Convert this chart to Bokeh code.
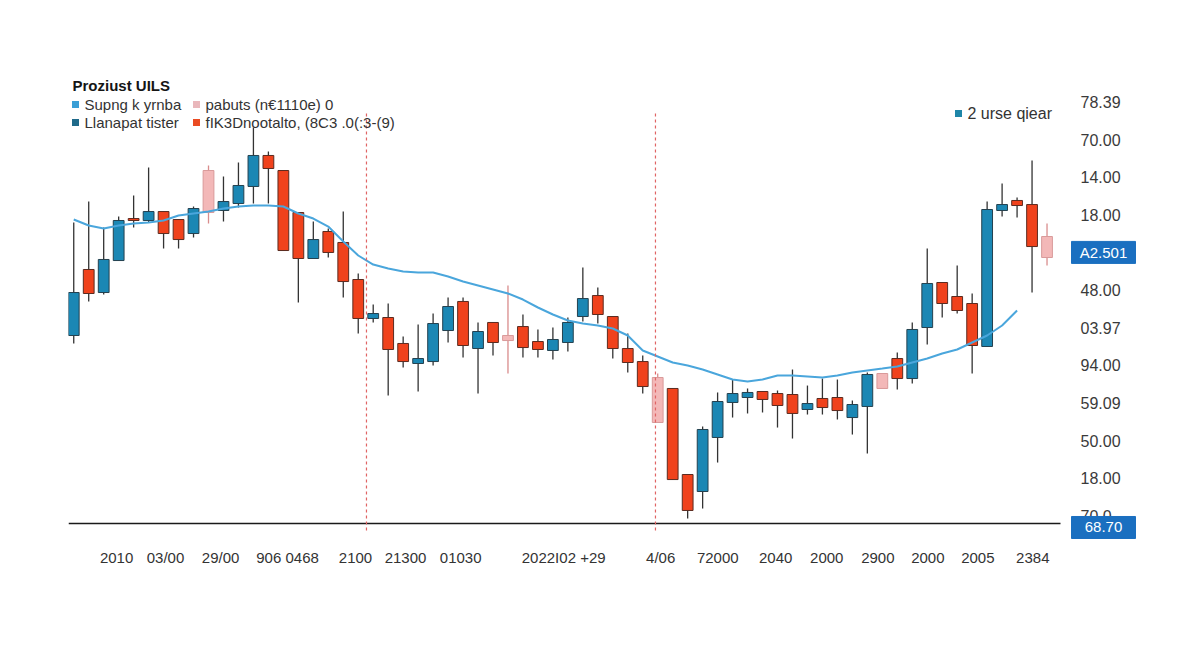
from bokeh.plotting import figure
from bokeh.models import FixedTicker, Label, ColumnDataSource, Range1d
from bokeh.core.properties import value
from bokeh.embed import file_html
from bokeh.resources import INLINE

# ---------------- data ----------------
opens = [33.96, 42.73, 39.67, 43.92, 49.50, 49.24, 50.43, 49.37, 47.51, 55.88,
         50.57, 51.50, 53.76, 57.88, 55.88, 50.30, 44.19, 47.78, 46.32, 41.40,
         36.22, 36.35, 32.90, 30.24, 30.50, 34.62, 38.48, 32.23, 35.69, 33.96,
         35.15, 33.16, 31.97, 33.03, 36.48, 39.27, 36.48, 32.23, 30.50, 28.38,
         26.92, 15.49, 13.23, 20.41, 25.06, 25.72, 26.52, 26.25, 26.12, 24.13,
         25.59, 25.72, 23.06, 24.53, 28.91, 30.90, 28.24, 35.02, 41.00, 39.14,
         38.21, 32.50, 50.57, 51.90, 51.36, 47.11]
highs = [48.97, 51.76, 48.31, 49.77, 52.56, 56.28, 50.43, 49.37, 51.10, 56.55,
         55.09, 56.95, 61.60, 58.41, 55.88, 50.30, 49.11, 48.18, 50.43, 42.20,
         38.08, 38.21, 33.83, 35.42, 36.88, 39.01, 39.01, 35.69, 35.69, 40.60,
         36.75, 34.76, 35.02, 36.35, 42.99, 40.34, 36.48, 34.22, 31.30, 28.91,
         26.92, 15.49, 21.87, 26.39, 28.11, 26.92, 26.52, 26.65, 29.44, 27.31,
         28.24, 28.11, 25.32, 29.04, 28.91, 31.70, 35.69, 45.52, 41.00, 43.26,
         39.54, 51.76, 54.16, 52.30, 57.21, 48.84]
lows = [32.90, 38.48, 39.41, 43.92, 48.31, 48.97, 45.52, 45.52, 46.98, 48.84,
        49.11, 50.97, 51.50, 51.50, 45.25, 38.34, 44.19, 44.32, 39.01, 34.22,
        35.69, 25.99, 29.71, 26.52, 29.97, 33.03, 31.04, 26.25, 31.30, 28.91,
        31.04, 31.04, 30.77, 31.83, 35.82, 35.55, 30.90, 29.04, 26.25, 22.40,
        14.82, 9.64, 10.97, 17.08, 23.06, 23.60, 23.73, 21.73, 20.27, 23.46,
        23.46, 22.80, 20.80, 18.28, 26.92, 26.78, 27.58, 32.76, 36.35, 36.88,
        28.91, 32.50, 49.77, 49.64, 39.67, 43.26]
closes = [39.67, 39.54, 44.06, 49.24, 49.24, 50.43, 47.51, 46.71, 50.83, 50.30,
          51.76, 53.89, 57.88, 56.15, 45.25, 44.19, 46.71, 44.99, 41.13, 36.22,
          36.88, 32.10, 30.50, 30.90, 35.55, 37.81, 32.63, 34.49, 33.03, 33.29,
          32.36, 32.10, 33.43, 35.69, 38.87, 36.75, 32.23, 30.37, 27.18, 22.40,
          14.82, 10.71, 21.47, 25.19, 26.25, 26.39, 25.46, 24.66, 23.60, 24.92,
          24.39, 23.99, 24.79, 28.78, 26.92, 28.24, 34.76, 40.87, 38.21, 37.28,
          32.63, 50.70, 51.36, 51.23, 45.78, 44.32]
# u = rising (blue), d = falling (red), p = pale/marked (pink)
styles = ["u", "d", "u", "u", "d", "u", "d", "d", "u", "p",
          "u", "u", "u", "d", "d", "d", "u", "d", "d", "d",
          "u", "d", "d", "u", "u", "u", "d", "u", "d", "p",
          "d", "d", "u", "u", "u", "d", "d", "d", "d", "p",
          "d", "d", "u", "u", "u", "u", "d", "d", "d", "u",
          "d", "d", "u", "u", "p", "d", "u", "u", "d", "d",
          "d", "u", "u", "d", "d", "p"]
moving_avg = [49.37, 48.57, 48.18, 48.57, 48.84, 48.97, 49.24, 49.90, 50.17, 50.43,
              50.83, 51.10, 51.23, 51.23, 51.10, 50.17, 49.50, 48.44, 46.45, 44.59,
              43.39, 42.86, 42.46, 42.33, 42.33, 41.80, 41.13, 40.60, 40.07, 39.54,
              38.74, 37.68, 36.75, 35.95, 35.55, 35.29, 34.89, 33.96, 31.97, 31.17,
              30.37, 29.97, 29.44, 28.78, 28.11, 27.85, 28.11, 28.64, 28.64, 28.51,
              28.38, 28.64, 29.04, 29.31, 29.57, 29.84, 30.37, 30.90, 31.57, 32.10,
              33.03, 33.96, 35.29, 37.28]
event_idx = [19.55, 38.85]
event_span = [8.05, 63.59]
baseline_value = 8.98

x_tick_pos = [2.86, 6.13, 9.81, 14.28, 18.82, 22.16, 25.84, 32.72,
              39.20, 43.01, 46.88, 50.29, 53.70, 57.04, 60.38, 64.05]
x_tick_labels = ["2010", "03/00", "29/00", "906 0468", "2100", "21300", "01030",
                 "2022I02 +29", "4/06", "72000", "2040", "2000", "2900", "2000",
                 "2005", "2384"]
y_tick_pos = [10, 15, 20, 25, 30, 35, 40, 50, 55, 60, 65]
y_tick_labels = ["70.0", "18.00", "50.00", "59.09", "94.00", "03.97", "48.00",
                 "18.00", "14.00", "70.00", "78.39"]
tag_values = [45.0, 8.45]
tag_labels = ["A2.501", "68.70"]

title_text = "Proziust UILS"
legend_labels = ["Supng k yrnba", "pabuts (n€1110e) 0",
                 "Llanapat tister", "fIK3Dnootalto, (8C3 .0(:3-(9)"]
legend_colors = ["#3a9fd6", "#e9b7bb", "#1f6a8a", "#ea4b22"]
side_label = "2 urse qiear"
side_color = "#1e86a8"

# ---------------- layout ----------------
W, H = 1184, 650
FL, FR, FT, FB = 68, 1150, 70, 540          # frame edges in picture pixels
XS = 66.25 / 992                            # x units per pixel
YS = 60.19 / 453                            # y units per pixel
X0 = -0.35                                  # x value at left frame edge
BASE_PX = 523                               # pixel row of the baseline value

def xd(px):
    return X0 + (px - FL) * XS

def yd(py):
    return baseline_value + (BASE_PX - py) * YS

X1 = xd(FR)
Y0, Y1 = yd(FB), yd(FT)

p = figure(width=W, height=H, output_backend="svg", toolbar_location=None,
           x_range=Range1d(X0, X1), y_range=Range1d(Y0, Y1),
           y_axis_location=None,
           min_border_left=FL, min_border_right=W - FR,
           min_border_top=FT, min_border_bottom=H - FB)
p.background_fill_color = "white"
p.border_fill_color = "white"
p.outline_line_color = None
p.xgrid.visible = False
p.ygrid.visible = False

FONT = "Liberation Sans"

xa = p.xaxis[0]
xa.ticker = FixedTicker(ticks=x_tick_pos)
xa.major_label_overrides = {t: l for t, l in zip(x_tick_pos, x_tick_labels)}
xa.axis_line_color = None
xa.major_tick_line_color = None
xa.minor_tick_line_color = None
xa.major_tick_out = 0
xa.major_label_standoff = 8
xa.major_label_text_font = FONT
xa.major_label_text_font_size = "15px"
xa.major_label_text_color = "#333333"

# baseline
p.segment(x0=[xd(68)], x1=[xd(1060)], y0=[baseline_value], y1=[baseline_value],
          line_color="#1a1a1a", line_width=1.6)

# ---------------- candles ----------------
fill_map = {"u": "#1b87b4", "d": "#f0421c", "p": "#f3b8b8"}
edge_map = {"u": "#24414f", "d": "#5b2b20", "p": "#d99a9a"}
wick_map = {"u": "#333333", "d": "#333333", "p": "#d98c8c"}
idx = list(range(len(opens)))
src = ColumnDataSource(dict(
    x=idx, o=opens, h=highs, l=lows, c=closes,
    top=[max(a, b) for a, b in zip(opens, closes)],
    bot=[min(a, b) for a, b in zip(opens, closes)],
    fill=[fill_map[s] for s in styles],
    edge=[edge_map[s] for s in styles],
    wick=[wick_map[s] for s in styles],
))
p.segment(x0="x", y0="l", x1="x", y1="h", source=src, line_color="wick", line_width=1.3)
p.vbar(x="x", top="top", bottom="bot", width=0.72, source=src,
       fill_color="fill", line_color="edge", line_width=1)

# moving average
p.line(list(range(len(moving_avg))), moving_avg, line_color="#4aa6dc", line_width=2)

# event markers
p.segment(x0=event_idx, x1=event_idx, y0=[event_span[0]] * len(event_idx),
          y1=[event_span[1]] * len(event_idx), line_color="#e06464",
          line_width=1.2, line_dash="3 3")

# ---------------- right-hand price scale ----------------
p.text(x=[xd(1080)] * len(y_tick_pos), y=y_tick_pos, text=y_tick_labels,
       text_font=value(FONT), text_font_size="16px", text_color="#3a3a3a",
       text_align="left", text_baseline="middle")

p.rect(x=[xd(1103)] * len(tag_values), y=tag_values, width=64, height=22,
       width_units="screen", height_units="screen",
       fill_color="#1a6fc0", line_color="#1a6fc0")
p.text(x=[xd(1103)] * len(tag_values), y=tag_values, text=tag_labels,
       text_font=value(FONT), text_font_size="15px", text_color="white",
       text_align="center", text_baseline="middle")

# ---------------- texts ----------------
p.add_layout(Label(x=xd(72), y=yd(85), text=title_text, text_font=FONT,
                   text_font_size="15px", text_font_style="bold",
                   text_color="#151515", text_baseline="middle"))

sq_x = [75, 196, 75, 196]
sq_y = [104, 104, 122, 122]
tx_x = [84, 205, 84, 205]
p.scatter([xd(v) for v in sq_x], [yd(v) for v in sq_y], marker="square", size=7,
          fill_color=legend_colors, line_color=None)
for lbl, xx, yy in zip(legend_labels, tx_x, sq_y):
    p.add_layout(Label(x=xd(xx), y=yd(yy), text=lbl, text_font=FONT,
                       text_font_size="15px", text_color="#333333",
                       text_baseline="middle"))

p.scatter([xd(958)], [yd(113)], marker="square", size=7, fill_color=side_color,
          line_color=None)
p.add_layout(Label(x=xd(967), y=yd(113), text=side_label, text_font=FONT,
                   text_font_size="16px", text_color="#333333",
                   text_baseline="middle"))

open("out.html", "w").write(file_html(p, INLINE))
